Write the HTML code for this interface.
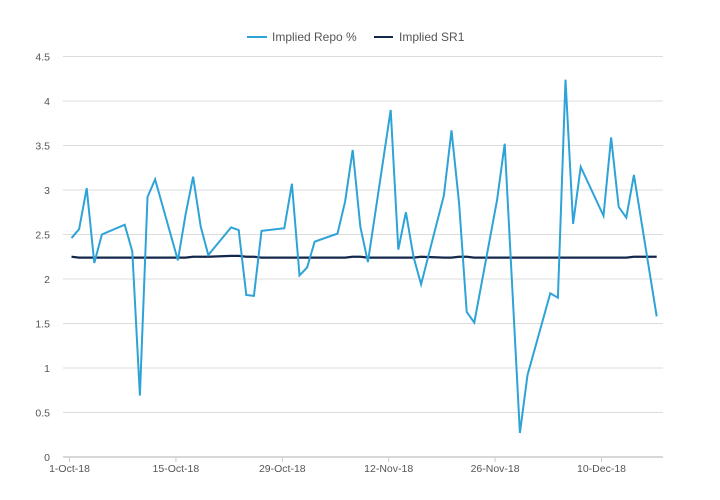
<!DOCTYPE html>
<html><head><meta charset="utf-8"><style>
body{margin:0;background:#fff;}
svg{display:block;font-family:"Liberation Sans",sans-serif;}
</style></head><body>
<svg id="chart" width="720" height="500">
  <g>
    <g>
      <line x1="247" y1="37" x2="267" y2="37" stroke="#2ea3d8" stroke-width="2"/>
      <text x="272" y="41" font-size="12" fill="#555">Implied Repo %</text>
    </g>
    <g>
      <line x1="374" y1="37" x2="393" y2="37" stroke="#14284b" stroke-width="2"/>
      <text x="399" y="41" font-size="12" fill="#555">Implied SR1</text>
    </g>
  </g>
  <g id="grid"></g>
  <g id="axes"></g>
  <g id="series"></g>
</svg>
<script>
const days = [0,1,2,3,4,7,8,9,10,11,14,15,16,17,18,21,22,23,24,25,28,29,30,31,32,35,36,37,38,39,42,43,44,45,46,49,50,51,52,53,56,57,59,60,63,64,65,66,67,70,71,72,73,74,77];
const repo = [2.46,2.56,3.02,2.18,2.50,2.61,2.31,0.69,2.92,3.12,2.21,2.72,3.15,2.59,2.27,2.58,2.55,1.82,1.81,2.54,2.57,3.07,2.04,2.13,2.42,2.51,2.87,3.45,2.59,2.19,3.90,2.33,2.75,2.25,1.94,2.94,3.67,2.85,1.63,1.51,2.89,3.52,0.27,0.92,1.84,1.79,4.24,2.62,3.26,2.71,3.59,2.81,2.69,3.17,1.58];
const sr1 = [2.25,2.24,2.24,2.24,2.24,2.24,2.24,2.24,2.24,2.24,2.24,2.24,2.25,2.25,2.25,2.26,2.26,2.25,2.25,2.24,2.24,2.24,2.24,2.24,2.24,2.24,2.24,2.25,2.25,2.24,2.24,2.24,2.24,2.24,2.25,2.24,2.24,2.25,2.25,2.24,2.24,2.24,2.24,2.24,2.24,2.24,2.24,2.24,2.24,2.24,2.24,2.24,2.24,2.25,2.25];
const yTicks = [0,0.5,1,1.5,2,2.5,3,3.5,4,4.5];
const xTickDays = [0,14,28,42,56,70];
const xTickLabels = ["1-Oct-18","15-Oct-18","29-Oct-18","12-Nov-18","26-Nov-18","10-Dec-18"];

const NS="http://www.w3.org/2000/svg";
const xs = d => 71.5 + d*7.6;
const ys = v => 457 - v*89;
function mk(tag, attrs, parent){const e=document.createElementNS(NS,tag);for(const k in attrs)e.setAttribute(k,attrs[k]);parent.appendChild(e);return e;}
const grid=document.getElementById('grid'), axes=document.getElementById('axes'), series=document.getElementById('series');
yTicks.forEach(t=>{
  if(t>0){const l=mk('line',{x1:63,x2:663,y1:ys(t),y2:ys(t),stroke:'#dcdcdc','stroke-width':1},grid);
  
  }
  const tx=mk('text',{x:50,y:ys(t)+4,'text-anchor':'end','font-size':10.5,fill:'#555'},axes);
  tx.textContent=String(t);
  
  
});
const ax=mk('line',{x1:63,x2:663,y1:457,y2:457,stroke:'#ccc','stroke-width':1.5},axes);


xTickDays.forEach((d,i)=>{
  const x=xs(d)-2;
  const tk=mk('line',{x1:x,x2:x,y1:457,y2:462,stroke:'#ccc'},axes);
  
  
  const tx=mk('text',{x:x,y:472,'text-anchor':'middle','font-size':10.5,fill:'#555'},axes);
  tx.textContent=xTickLabels[i];
  
  
});
const p2=mk('polyline',{points:days.map((d,i)=>xs(d)+','+ys(sr1[i])).join(' '),fill:'none',stroke:'#14284b','stroke-width':2.2},series);


const p1=mk('polyline',{points:days.map((d,i)=>xs(d)+','+ys(repo[i])).join(' '),fill:'none',stroke:'#2ea3d8','stroke-width':2,'stroke-linejoin':'miter'},series);


</script>
</body></html>
